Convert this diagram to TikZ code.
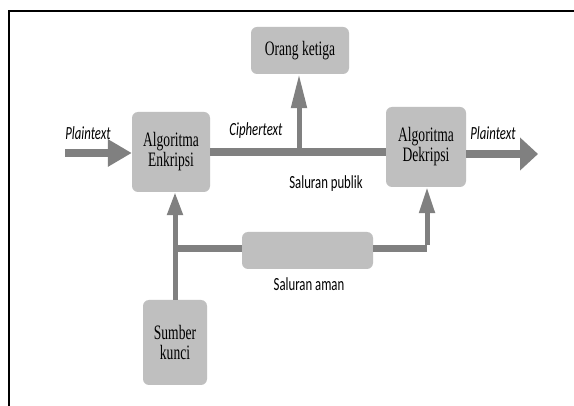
\documentclass[tikz,border=0pt]{standalone}
\usepackage{fontspec}
\usetikzlibrary{arrows.meta}
\newfontfamily\boxfont[FakeStretch=0.66]{Liberation Serif}
\newfontfamily\lblfont[FakeStretch=0.69]{Carlito}
\definecolor{boxgray}{HTML}{BFBFBF}
\definecolor{arrgray}{HTML}{808080}
\begin{document}
\begin{tikzpicture}[x=1pt,y=-1pt,
  gbox/.style={draw=none,fill=boxgray,rounded corners=6pt,inner sep=0pt,align=center,
    font=\boxfont\fontsize{20.5}{20}\selectfont},
  lbl/.style={inner sep=0pt,font=\lblfont\fontsize{18.5}{20}\selectfont},
  ilbl/.style={inner sep=0pt,font=\lblfont\itshape\fontsize{18.5}{20}\selectfont},
  thick line/.style={draw=arrgray,line width=8pt},
  thin line/.style={draw=arrgray,line width=5pt},
  mid line/.style={draw=arrgray,line width=7pt}]
\useasboundingbox (0,0) rectangle (574,406);
\fill[white] (0,0) rectangle (574,406);
% border
\draw[black,line width=2pt] (574,11) -- (9,11) -- (9,406);
% boxes
\node[gbox,minimum width=78pt,minimum height=80pt] (enc) at (171,152) {Algoritma\\Enkripsi};
\node[gbox,minimum width=80pt,minimum height=80pt] (dec) at (426,147) {Algoritma\\Dekripsi};
\node[gbox,minimum width=98pt,minimum height=47pt] (third) at (300,50.5) {Orang ketiga};
\node[gbox,minimum width=64pt,minimum height=85pt] (key) at (175,342.5) {Sumber\\kunci};
\node[gbox,minimum width=131pt,minimum height=37pt] (sec) at (307.5,250.5) {};
% coordinates
\coordinate (inL) at (65,153);
\coordinate (outR) at (538,154);
\coordinate (tap) at (299,152);
\coordinate (jn) at (175,249);
\coordinate (cr) at (427,249);
% connectors
\draw[thick line,-{Triangle[length=24pt,width=26pt]}] (inL) -- (enc.west |- inL);
\draw[thick line] (enc.east |- tap) -- (dec.west |- tap);
\draw[thick line,-{Triangle[length=18pt,width=32pt]}] (dec.east |- outR) -- (outR);
\draw[thin line,-{Triangle[length=34pt,width=15pt]}] (tap) -- (third.south -| tap);
\draw[thin line,-{Triangle[length=23pt,width=15pt]}] (key.north) -- (enc.south -| key.north);
\draw[mid line] (jn) -- (sec.west |- jn);
\draw[mid line] (sec.east |- cr) -- (cr);
\draw[thin line,-{Triangle[length=26pt,width=15pt]}] ([yshift=3.5pt]cr) -- (dec.south -| cr);
% labels
\node[ilbl] (lp1) at (88,133) {Plaintext};
\node[ilbl] (lc) at (256,131) {Ciphertext};
\node[ilbl] (lp2) at (493,133) {Plaintext};
\node[lbl] (lpub) at (326,184) {Saluran publik};
\node[lbl] (laman) at (309,284) {Saluran aman};
\end{tikzpicture}
\end{document}
